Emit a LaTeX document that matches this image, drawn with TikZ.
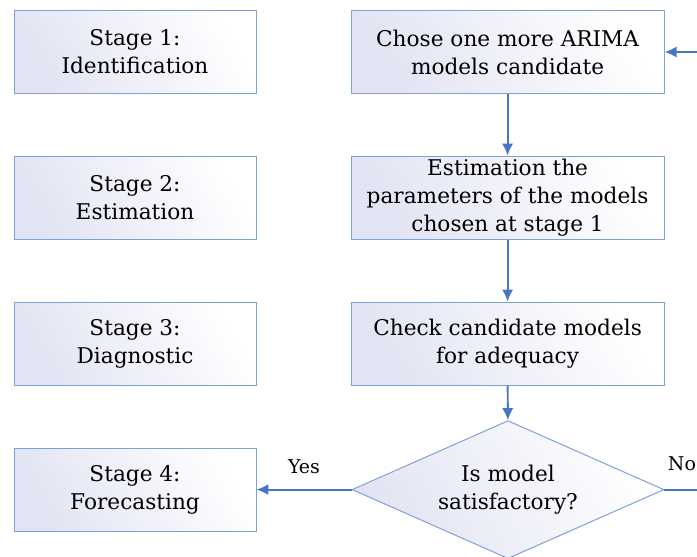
\documentclass[tikz,border=0pt]{standalone}
\usepackage{fontspec}
\setmainfont{DejaVu Serif}
\usetikzlibrary{arrows.meta,shapes.geometric}
\definecolor{edge}{HTML}{7F9FD9}
\definecolor{flow}{HTML}{4A74C6}
\definecolor{lav}{HTML}{E2E4F3}

\begin{document}
\begin{tikzpicture}[
  font=\fontsize{15.4}{19.9}\selectfont,
  box/.style={draw=edge, line width=0.7pt, left color=lav, right color=white, shading angle=120,
              align=center, minimum height=2.075cm, inner sep=2pt},
  stagebox/.style={box, minimum width=6.05cm},
  procbox/.style={box, minimum width=7.825cm},
  dec/.style={diamond, aspect=2.26, draw=edge, line width=0.7pt, left color=lav, right color=white, shading angle=120,
              align=center, minimum width=7.8cm, minimum height=3.45cm, inner sep=0pt},
  arr/.style={-{Latex[length=3mm,width=2.8mm]}, draw=flow, line width=1.4pt},
  lab/.style={font=\fontsize{13.5}{15}\selectfont}
]
\useasboundingbox (0,0) rectangle (17.425,-13.9);
\clip (0,0) rectangle (17.425,-13.9);

% stages
\node[stagebox] (s1) at (3.375,-1.3) {Stage 1:\\Identification};
\node[stagebox] (s2) at (3.375,-4.94) {Stage 2:\\Estimation};
\node[stagebox] (s3) at (3.375,-8.59) {Stage 3:\\Diagnostic};
\node[stagebox] (s4) at (3.375,-12.24) {Stage 4:\\Forecasting};

% procedure
\node[procbox] (choose) at (12.69,-1.3) {Chose one more ARIMA\\models candidate};
\node[procbox] (estim) at (12.69,-4.94) {Estimation the\\parameters of the models\\chosen at stage 1};
\node[procbox] (check) at (12.69,-8.59) {Check candidate models\\for adequacy};
\node[dec] (ok) at (12.7,-12.24) {Is model\\satisfactory?};
\coordinate (loop) at (18,-12.24);

\draw[arr] (choose) -- (estim);
\draw[arr] (estim) -- (check);
\draw[arr] (check) -- (ok);
\draw[arr] (ok.west) -- (s4.east) node[lab, above, pos=0.5, yshift=0.25cm] {Yes};
\draw[arr] (ok.east) -- (loop) |- (choose.east);
\node[lab] (no) at (17.05,-11.6) {No};
\end{tikzpicture}
\end{document}
